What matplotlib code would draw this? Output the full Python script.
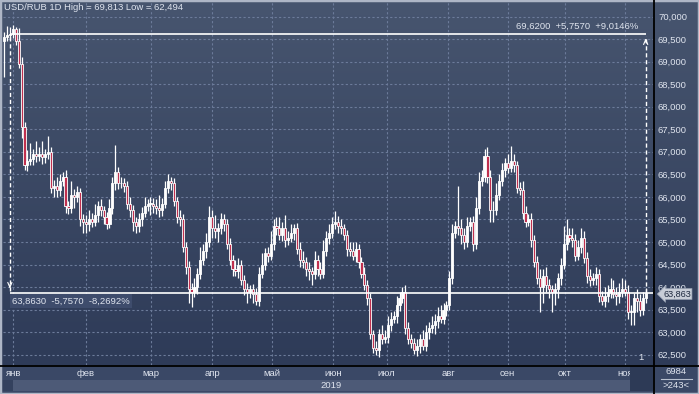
import numpy as np
import matplotlib
matplotlib.use('Agg')
import matplotlib.pyplot as plt
from matplotlib.colors import LinearSegmentedColormap
from matplotlib.patches import Rectangle
from matplotlib.lines import Line2D

# DATA (USD/RUB daily)
open0 = 69.45
closes = [
    69.55, 69.60, 69.62, 69.72, 69.45, 68.95, 67.55, 66.70, 66.80, 66.85,
    66.95, 66.90, 66.95, 66.88, 66.95, 67.00, 66.20, 66.25, 66.15, 66.35,
    66.45, 65.80, 65.75, 66.05, 66.00, 66.10, 65.50, 65.45, 65.40, 65.50,
    65.45, 65.60, 65.80, 65.70, 65.55, 65.40, 65.75, 66.30, 66.55, 66.30,
    66.30, 66.25, 65.85, 65.70, 65.45, 65.35, 65.50, 65.65, 65.80, 65.85,
    65.85, 65.80, 65.75, 65.70, 65.85, 66.20, 66.35, 66.30, 65.90, 65.55,
    65.50, 64.90, 64.45, 63.95, 63.90, 64.00, 64.30, 64.60, 64.80, 65.00,
    65.55, 65.30, 65.25, 65.30, 65.50, 65.40, 64.95, 64.60, 64.40, 64.35,
    64.50, 64.15, 63.95, 63.90, 63.95, 63.85, 63.70, 64.30, 64.50, 64.75,
    64.70, 64.95, 65.35, 65.30, 65.15, 65.30, 65.05, 65.10, 65.20, 65.30,
    64.85, 64.60, 64.55, 64.40, 64.35, 64.30, 64.60, 64.40, 64.30, 64.80,
    65.10, 65.20, 65.40, 65.45, 65.35, 65.30, 65.15, 64.85, 64.80, 64.70,
    64.85, 64.55, 64.30, 64.05, 63.75, 62.95, 62.65, 62.60, 62.95, 62.85,
    62.90, 63.15, 63.30, 63.35, 63.60, 63.75, 63.90, 63.10, 62.85, 62.75,
    62.60, 62.70, 62.85, 62.70, 63.00, 63.10, 63.15, 63.25, 63.35, 63.30,
    63.50, 63.60, 64.20, 65.20, 65.35, 65.30, 65.15, 65.00, 65.35, 65.45,
    64.95, 65.75, 66.35, 66.45, 66.90, 66.45, 65.70, 65.70, 66.05, 66.35,
    66.60, 66.75, 66.65, 66.80, 66.70, 66.20, 66.15, 65.65, 65.45, 65.50,
    65.05, 64.55, 64.20, 64.00, 64.25, 64.05, 63.95, 63.90, 63.95, 64.20,
    64.50, 64.95, 65.15, 65.10, 65.05, 64.70, 64.90, 65.10, 64.65, 64.25,
    64.15, 64.20, 64.30, 63.80, 63.70, 63.80, 63.90, 63.95, 63.85, 63.80,
    63.90, 63.95, 63.90, 63.45, 63.45, 63.75, 63.70, 63.50, 63.75, 63.863,
]
# wick length above / below the body
wick_up = [
    0.10, 0.20, 0.15, 0.09, 0.05, 0.30, 0.15, 0.10, 0.25, 0.35,
    0.12, 0.30, 0.15, 0.30, 0.12, 0.35, 0.10, 0.12, 0.20, 0.15,
    0.10, 0.15, 0.10, 0.30, 0.12, 0.15, 0.10, 0.12, 0.15, 0.20,
    0.15, 0.25, 0.12, 0.15, 0.10, 0.12, 0.20, 0.15, 0.60, 0.12,
    0.15, 0.12, 0.10, 0.15, 0.12, 0.10, 0.15, 0.12, 0.20, 0.10,
    0.15, 0.12, 0.15, 0.30, 0.12, 0.15, 0.15, 0.10, 0.12, 0.10,
    0.15, 0.12, 0.10, 0.12, 0.15, 0.20, 0.12, 0.30, 0.15, 0.20,
    0.25, 0.15, 0.30, 0.12, 0.15, 0.12, 0.10, 0.15, 0.12, 0.20,
    0.15, 0.10, 0.12, 0.15, 0.10, 0.12, 0.12, 0.15, 0.25, 0.12,
    0.15, 0.30, 0.15, 0.20, 0.25, 0.15, 0.30, 0.15, 0.20, 0.10,
    0.12, 0.15, 0.20, 0.12, 0.15, 0.10, 0.20, 0.12, 0.15, 0.25,
    0.15, 0.20, 0.15, 0.23, 0.12, 0.15, 0.10, 0.12, 0.15, 0.20,
    0.15, 0.10, 0.12, 0.15, 0.10, 0.12, 0.10, 0.15, 0.12, 0.20,
    0.15, 0.20, 0.15, 0.12, 0.20, 0.15, 0.10, 0.15, 0.12, 0.10,
    0.12, 0.15, 0.12, 0.20, 0.15, 0.12, 0.20, 0.15, 0.20, 0.25,
    0.15, 0.10, 0.15, 0.20, 0.12, 0.90, 0.20, 0.15, 0.20, 0.10,
    0.12, 0.25, 0.20, 0.15, 0.17, 0.20, 0.15, 0.20, 0.25, 0.15,
    0.15, 0.12, 0.20, 0.33, 0.15, 0.10, 0.12, 0.20, 0.15, 0.12,
    0.15, 0.10, 0.15, 0.20, 0.15, 0.20, 0.12, 0.10, 0.15, 0.12,
    0.15, 0.40, 0.35, 0.15, 0.20, 0.12, 0.15, 0.20, 0.15, 0.12,
    0.15, 0.12, 0.15, 0.10, 0.12, 0.20, 0.15, 0.25, 0.20, 0.15,
    0.20, 0.25, 0.20, 0.15, 0.15, 0.12, 0.20, 0.15, 0.15, 0.12,
]
wick_dn = [
    0.80, 0.10, 0.12, 0.10, 0.08, 0.10, 0.25, 0.10, 0.12, 0.10,
    0.15, 0.12, 0.10, 0.15, 0.12, 0.10, 0.12, 0.20, 0.15, 0.12,
    0.10, 0.15, 0.12, 0.10, 0.25, 0.12, 0.15, 0.25, 0.20, 0.15,
    0.12, 0.10, 0.15, 0.12, 0.15, 0.12, 0.10, 0.12, 0.15, 0.12,
    0.10, 0.15, 0.12, 0.15, 0.20, 0.15, 0.12, 0.15, 0.10, 0.12,
    0.25, 0.15, 0.12, 0.15, 0.12, 0.10, 0.12, 0.15, 0.10, 0.12,
    0.15, 0.12, 0.15, 0.30, 0.35, 0.12, 0.15, 0.12, 0.10, 0.15,
    0.12, 0.20, 0.15, 0.25, 0.12, 0.15, 0.10, 0.12, 0.15, 0.10,
    0.15, 0.10, 0.12, 0.25, 0.15, 0.20, 0.10, 0.12, 0.10, 0.12,
    0.15, 0.10, 0.12, 0.15, 0.10, 0.12, 0.15, 0.12, 0.10, 0.15,
    0.12, 0.15, 0.12, 0.15, 0.20, 0.25, 0.12, 0.15, 0.12, 0.10,
    0.12, 0.15, 0.10, 0.12, 0.15, 0.12, 0.10, 0.15, 0.12, 0.10,
    0.15, 0.12, 0.10, 0.12, 0.15, 0.10, 0.12, 0.11, 0.15, 0.12,
    0.10, 0.15, 0.12, 0.10, 0.15, 0.12, 0.10, 0.15, 0.12, 0.10,
    0.08, 0.12, 0.15, 0.10, 0.12, 0.15, 0.12, 0.20, 0.15, 0.10,
    0.12, 0.15, 0.10, 0.12, 0.10, 0.15, 0.20, 0.15, 0.12, 0.10,
    0.15, 0.10, 0.12, 0.10, 0.12, 0.15, 0.25, 0.25, 0.10, 0.12,
    0.10, 0.15, 0.12, 0.10, 0.15, 0.12, 0.10, 0.15, 0.12, 0.10,
    0.15, 0.10, 0.12, 0.55, 0.35, 0.15, 0.20, 0.45, 0.30, 0.20,
    0.15, 0.10, 0.12, 0.10, 0.15, 0.12, 0.10, 0.15, 0.12, 0.15,
    0.12, 0.10, 0.15, 0.12, 0.10, 0.15, 0.12, 0.15, 0.10, 0.20,
    0.15, 0.12, 0.10, 0.15, 0.30, 0.30, 0.25, 0.15, 0.12, 0.10,
]
months = ['янв', 'фев', 'мар', 'апр', 'май', 'июн', 'июл', 'авг', 'сен', 'окт', 'ноя']
month_pos = [3.2, 27.9, 50.1, 71.1, 91.4, 112.4, 130.6, 151.6, 171.9, 191.4, 212.0]
y_ticks = np.arange(62.5, 70.01, 0.5)

measure_start, measure_end = 2, 219
price_hi, price_lo = 69.62, 63.863

# COLOURS
TXT = '#dfe4ee'
RED = '#c0304f'
GRID = '#6c7b9a'

W, H = 699, 394
plt.rcParams['font.family'] = ['Liberation Sans', 'DejaVu Sans']
fig = plt.figure(figsize=(W / 100, H / 100), dpi=100)
fig.patch.set_facecolor('#3a4866')

def fx(px):
    return px / W

def fy(py):
    return 1 - py / H

# gradient background behind plot and price scale
bg = fig.add_axes([0, fy(365), 1, 365 / H])
bg.set_axis_off()
cm = LinearSegmentedColormap.from_list('bg', ['#47556f', '#2e3b58'])
bg.imshow(np.linspace(0, 1, 256).reshape(-1, 1), aspect='auto', cmap=cm, extent=[0, 1, 0, 1])

ax = fig.add_axes([fx(3), fy(365), fx(653) - fx(3), 365 / H])
ax.patch.set_alpha(0)
ax.set_xlim(-0.34, 221.5)
ax.set_ylim(62.273, 70.366)
for s in ax.spines.values():
    s.set_visible(False)

ax.set_xticks(month_pos)
ax.set_xticklabels(months)
ax.set_yticks(y_ticks)
ax.set_yticklabels([('%.3f' % v).replace('.', ',') for v in y_ticks])
ax.yaxis.tick_right()
ax.tick_params(axis='y', length=0, pad=3.6, labelsize=6.8, labelcolor=TXT)
ax.tick_params(axis='x', length=0, pad=3.0, labelsize=6.8, labelcolor=TXT)
ax.grid(True, color=GRID, linestyle=(0, (2, 2)), linewidth=0.8)
ax.set_axisbelow(True)

# CANDLES
c = np.array(closes)
o = np.array([open0] + closes[:-1])
hi = np.maximum(o, c) + np.array(wick_up)
lo = np.minimum(o, c) - np.array(wick_dn)
idx = np.arange(len(c))
up = c >= o
ax.vlines(idx, lo, hi, color='white', linewidth=0.9, zorder=3)
body_b = np.minimum(o, c)
body_h = np.maximum(np.abs(c - o), 0.015)
ax.bar(idx, body_h, bottom=body_b, width=0.72, color=np.where(up, 'white', RED),
       edgecolor='white', linewidth=0.6, zorder=4)

# MEASUREMENT LINES
ax.hlines(price_hi, measure_start, measure_end, color='white', linewidth=1.2, zorder=5)
ax.hlines(price_lo, measure_start, 221.5, color='white', linewidth=1.2, zorder=5)
ax.vlines(measure_start, price_lo + 0.05, price_hi, color='white', linewidth=1,
          linestyles=(0, (3, 2)), zorder=5)
ax.vlines(measure_end, price_lo, price_hi - 0.05, color='white', linewidth=1,
          linestyles=(0, (3, 2)), zorder=5)
ax.annotate('', xy=(measure_start, price_lo + 0.04), xytext=(measure_start, price_lo + 0.25),
            arrowprops=dict(arrowstyle='->,head_length=0.35,head_width=0.15', color='white', lw=0.8))
ax.annotate('', xy=(measure_end, price_hi - 0.04), xytext=(measure_end, price_hi - 0.25),
            arrowprops=dict(arrowstyle='->,head_length=0.35,head_width=0.15', color='white', lw=0.8))

fig.text(fx(638), fy(26), '69,6200  +5,7570  +9,0146%', ha='right', va='center',
         fontsize=6.8, color=TXT)
fig.text(fx(12), fy(301), '63,8630  -5,7570  -8,2692%', ha='left', va='center',
         fontsize=6.8, color=TXT,
         bbox=dict(boxstyle='square,pad=0.25', fc='#3e4c6c', ec='none'))
fig.text(fx(4), fy(8), 'USD/RUB 1D High = 69,813 Low = 62,494', ha='left', va='center',
         fontsize=6.8, color=TXT)
fig.text(fx(641), fy(357), '1', ha='center', va='center', fontsize=6.8, color=TXT)

# price tag on the scale (drawn over the 64,000 label, as in the original)
fig.text(fx(677), fy(294), '63,863', ha='center', va='center', fontsize=6.6, color='#1f2a40',
         zorder=10, bbox=dict(boxstyle='larrow,pad=0.12', fc='#c9ced8', ec='#8d97aa', lw=0.5))

# BOTTOM STRIPS
fig.add_artist(Rectangle((0, fy(391)), fx(653), (391 - 380) / H, transform=fig.transFigure,
                         fc='#4d5a77', ec='none'))
fig.add_artist(Rectangle((0, fy(391)), fx(13), (391 - 380) / H, transform=fig.transFigure,
                         fc='#34415e', ec='none'))
fig.add_artist(Rectangle((fx(630), fy(391)), fx(23), (391 - 366) / H, transform=fig.transFigure,
                         fc='#2d3a56', ec='none'))
fig.text(fx(331), fy(385), '2019', ha='center', va='center', fontsize=6.8, color=TXT)
fig.text(fx(676), fy(372), '6984', ha='center', va='center', fontsize=6.8, color=TXT)
fig.text(fx(676), fy(386), '>243<', ha='center', va='center', fontsize=6.8, color=TXT)
fig.add_artist(Line2D([fx(661), fx(692)], [fy(379), fy(379)], color='#b8c0cf', lw=0.8))

# separators and frame
fig.add_artist(Line2D([fx(653.5)] * 2, [0, 1], color='black', lw=1.3))
fig.add_artist(Line2D([0, 1], [fy(365.5)] * 2, color='black', lw=1.3))
fig.add_artist(Rectangle((0, 0), 1, 1, transform=fig.transFigure, fill=False,
                         ec='#aeb6c6', lw=2.5))

fig.savefig('out.png', dpi=100, facecolor=fig.get_facecolor())
